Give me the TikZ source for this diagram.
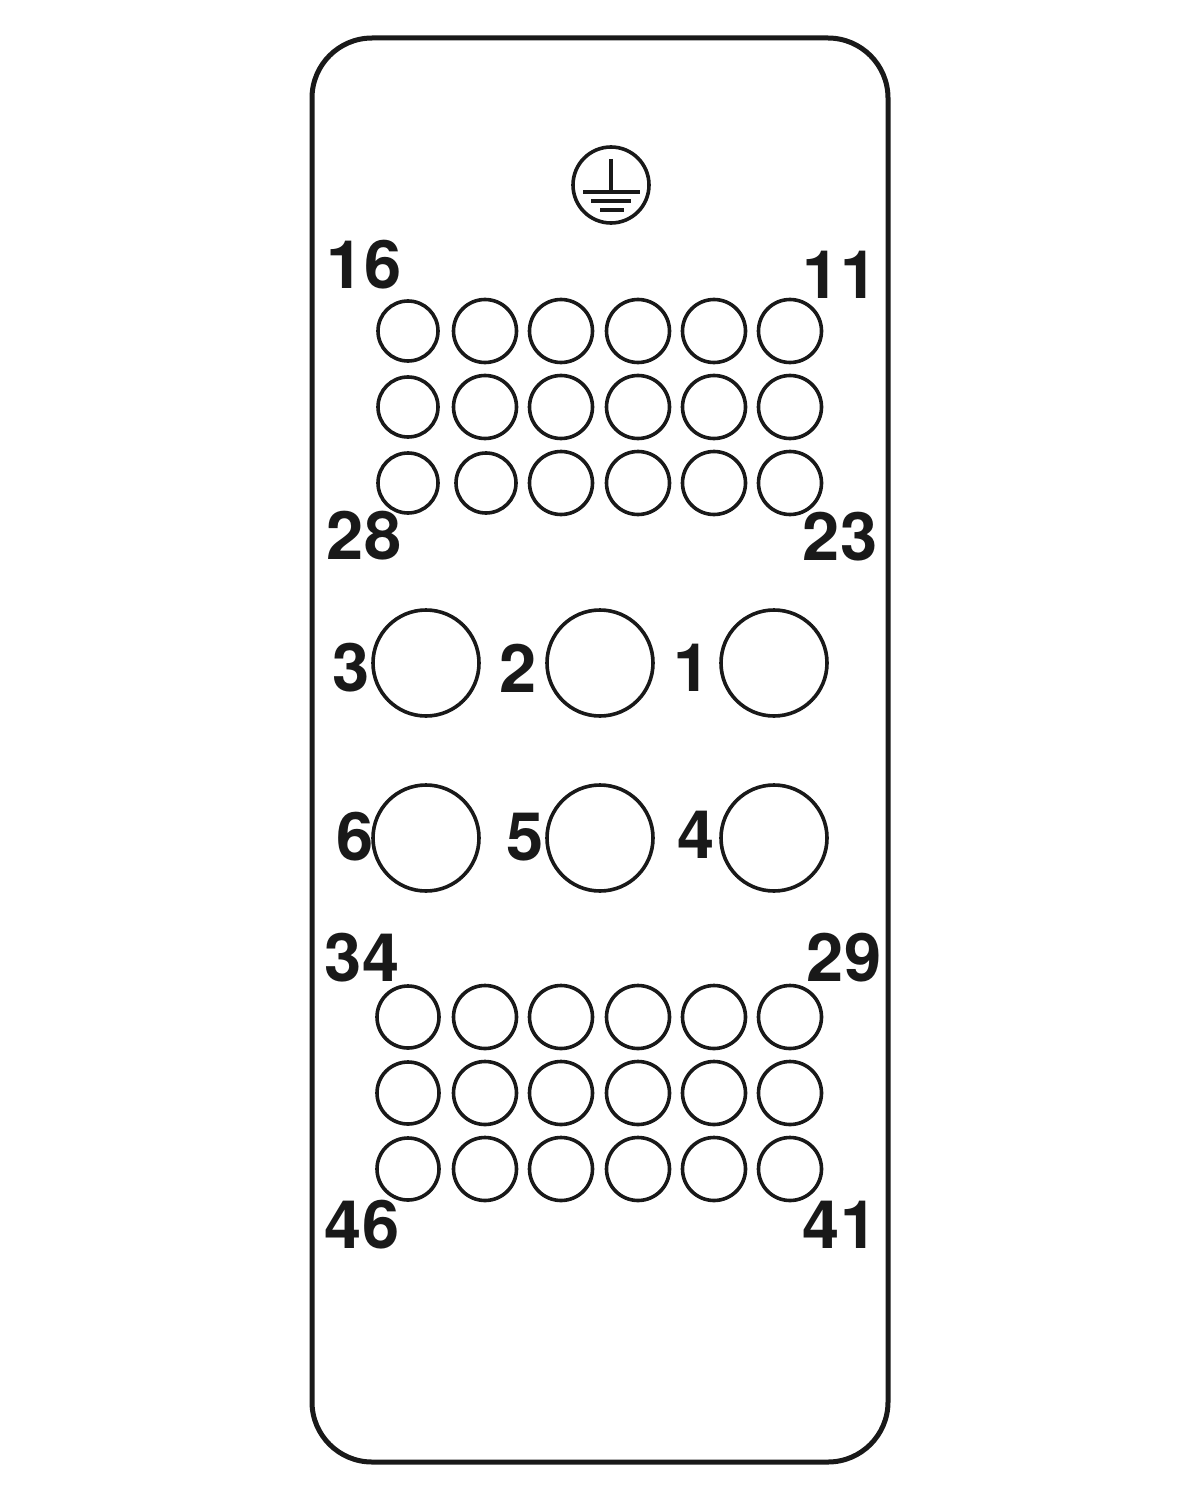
\documentclass[tikz,border=0pt]{standalone}
\usepackage{fontspec}
\setmainfont{TeX Gyre Heros}
\tikzset{
  hole/.style={line width=0.036cm, color=black!90},
  plate/.style={line width=0.05cm, color=black!90},
  pinlabel/.style={inner sep=0, color=black!90, font=\fontsize{19}{20}\selectfont\bfseries},
}
\begin{document}
\begin{tikzpicture}[x=0.01cm, y=-0.01cm]
    \useasboundingbox (0, 0) rectangle (1200, 1500);
    % outer plate
    \draw [plate, rounded corners=0.6cm] (312, 38) rectangle (888, 1462);
    % earth symbol
    \draw [hole] (611, 185) circle (38);
    \draw [hole] (611, 159) -- (611, 192);
    \draw [hole] (583, 192) -- (640, 192);
    \draw [hole] (591, 201) -- (631, 201);
    \draw [hole] (600, 210) -- (624, 210);
    % small holes, upper block
    \foreach \y in {331, 407} {
        \draw [hole] (408, \y) circle (30);
        \draw [hole] (485, \y) circle (31.5);
    }
    \draw [hole] (408, 483) circle (30);
    \draw [hole] (486, 483) circle (30);
    \foreach \y in {331, 407, 483} {
        \foreach \x in {561, 638, 714, 790} {
            \draw [hole] (\x, \y) circle (31.5);
        }
    }
    % small holes, lower block
    \foreach \y in {1017, 1093, 1169} {
        \draw [hole] (408, \y) circle (31);
        \foreach \x in {485, 561, 638, 714, 790} {
            \draw [hole] (\x, \y) circle (31.5);
        }
    }
    % large holes
    \foreach \y in {663, 838} {
        \foreach \x in {426, 600, 774} {
            \draw [hole] (\x, \y) circle (53);
        }
    }
    % upper block labels
    \node [pinlabel] (n16) at (364, 265) {16};
    \node [pinlabel] (n11) at (840, 275) {11};
    \node [pinlabel] (n28) at (364, 536) {28};
    \node [pinlabel] (n23) at (840, 537) {23};
    % large hole labels
    \node [pinlabel] (n3) at (351, 668) {3};
    \node [pinlabel] (n2) at (518, 668) {2};
    \node [pinlabel] (n1) at (692, 668) {1};
    \node [pinlabel] (n6) at (355, 837) {6};
    \node [pinlabel] (n5) at (525, 837) {5};
    \node [pinlabel] (n4) at (696, 835) {4};
    % lower block labels
    \node [pinlabel] (n34) at (362, 958) {34};
    \node [pinlabel] (n29) at (844, 958) {29};
    \node [pinlabel] (n46) at (362, 1225) {46};
    \node [pinlabel] (n41) at (840, 1225) {41};
\end{tikzpicture}
\end{document}
